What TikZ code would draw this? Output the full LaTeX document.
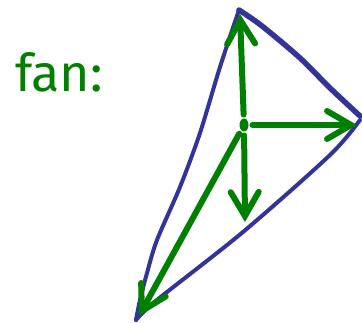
\documentclass[tikz,border=0pt]{standalone}
\usetikzlibrary{arrows.meta,shapes.geometric}
\usepackage{fontspec}
\setsansfont{Fira Sans}
\definecolor{edgeblue}{RGB}{51,51,153}
\definecolor{fangreen}{RGB}{0,128,0}
\begin{document}
\begin{tikzpicture}[x=1pt,y=-1pt,
  edge/.style={draw=edgeblue,line width=4pt,line cap=round,line join=round},
  ray/.style={draw=fangreen,line width=6pt,line cap=round,
    -{Straight Barb[length=24pt,width=28pt,line cap=round,line width=6pt]}},
  dot/.style={fill=fangreen,ellipse,minimum width=9pt,minimum height=13pt,inner sep=0pt,outer sep=4pt},
  label/.style={text=fangreen,font=\sffamily\fontsize{52}{52}\selectfont,inner sep=0pt}]
\useasboundingbox (0,0) rectangle (362,323);
\coordinate (T) at (239,10);
\coordinate (R) at (360,116);
\coordinate (B) at (136,320);
\draw[edge] plot[smooth,tension=0.5] coordinates {(239,10) (220,67) (200,133) (180,187) (157,240) (147,273) (140,300) (136,320)};
\draw[edge,line width=5.5pt] plot[smooth,tension=0.5] coordinates {(239,10) (262,26) (300,58) (330,88) (360,116)};
\draw[edge] plot[smooth,tension=0.5] coordinates {(360,120) (330,155) (243,232) (157,300) (136,320)};
\node[dot] (c) at (244,125) {};
\coordinate (up) at (240,14);
\coordinate (rt) at (357,125);
\coordinate (dn) at (245,222);
\coordinate (dl) at (139,316);
\draw[ray] (c) -- (up);
\draw[ray] (c) -- (rt);
\draw[ray] (c) -- (dn);
\draw[ray] (c) -- (dl);
\node[label,anchor=base west] (fan) at (15,92) {fan:};
\end{tikzpicture}
\end{document}
